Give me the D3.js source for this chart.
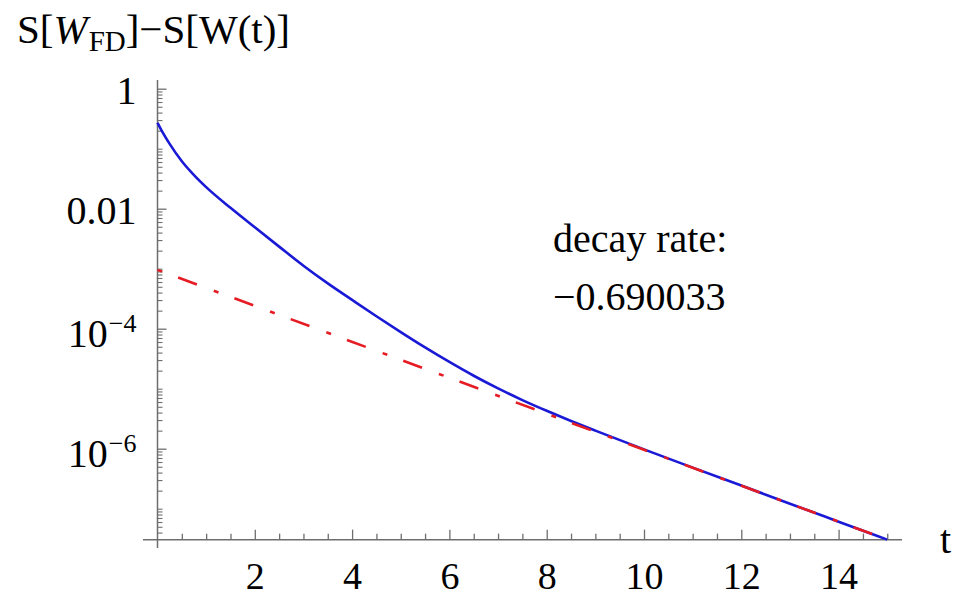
<!DOCTYPE html>
<html><head><meta charset="utf-8">
<script src="https://cdn.jsdelivr.net/npm/d3@7"></script>
<style>
html,body{margin:0;padding:0;background:#fff;}
svg{display:block;}
svg text{font-family:"Liberation Serif","Times New Roman",serif;}
</style></head><body>
<svg id="chart" width="954" height="598"></svg>
<script>
// ---- data ----
const blueT = [0, 0.1, 0.25, 0.5, 0.75, 1.0, 1.5, 2.0, 2.5, 3.0, 3.5, 4.0, 4.5, 5.0, 5.5, 6.0, 6.5, 7.0, 7.5, 8.0, 8.5, 9.0, 10, 11, 12, 13, 14, 15];
const blueS = [0.271, 0.1905, 0.1202, 0.0617, 0.0363, 0.0229, 0.01035, 4.90e-3, 2.333e-3, 1.122e-3, 5.69e-4, 3.02e-4, 1.614e-4, 8.79e-5, 4.88e-5, 2.79e-5, 1.644e-5, 1.012e-5, 6.46e-6, 4.28e-6, 2.90e-6, 2.00e-6, 9.75e-7, 4.84e-7, 2.43e-7, 1.213e-7, 6.08e-8, 3.05e-8];
const redT = [0, 5, 10, 15];
const redS = [9.55e-4, 3.03e-5, 9.6e-7, 3.05e-8];
const xMajorTicks = [2, 4, 6, 8, 10, 12, 14];
const yMajorTicks = [1, 1e-2, 1e-4, 1e-6];
const yTickLabels = [["1", ""], ["0.01", ""], ["10", "\u22124"], ["10", "\u22126"]];
const decayText = ["decay rate:", "\u22120.690033"];
const xAxisLabel = "t";

// ---- layout ----
const FONT = "Liberation Serif, Times New Roman, serif";
const svg = d3.select("#chart");
const x = d3.scaleLinear().domain([0, 15]).range([157.5, 157.5 + 15 * 48.65]);
const y = d3.scaleLog().domain([1, 1e-8]).range([88.7, 568.7]);
const yBottom = 3.05e-8, yTop = 1.4;
const axisY = y(yBottom);
const axisColor = "#6e6e6e";

// minor ticks
const xMinor = d3.range(0.5, 15.01, 0.5).filter(v => !xMajorTicks.includes(v));
const yMinor = [];
for (let k = -8; k <= 0; k++) for (let j = 1; j <= 9; j++) {
  const v = j * Math.pow(10, k);
  if (v >= yBottom * 0.999 && v <= yTop && !yMajorTicks.some(m => Math.abs(m - v) / m < 1e-6)) yMinor.push(v);
}

// x axis
const gx = svg.append("g").attr("transform", `translate(0,${axisY})`);
gx.call(d3.axisBottom(x).tickValues(xMinor).tickSize(-6).tickFormat(""));
gx.call(g => g.select(".domain").remove());
const gxM = svg.append("g").attr("transform", `translate(0,${axisY})`);
gxM.call(d3.axisBottom(x).tickValues(xMajorTicks).tickSize(-10).tickPadding(22).tickFormat(d3.format("d")));
gxM.call(g => g.select(".domain").remove());
gxM.attr("font-family", FONT);
gxM.selectAll("text").attr("font-size", 38).attr("fill", "#000").attr("font-family", FONT);
svg.selectAll(".tick line").attr("stroke", axisColor).attr("stroke-width", 1.3);
svg.append("line").attr("x1", 143).attr("x2", 902).attr("y1", axisY).attr("y2", axisY)
  .attr("stroke", axisColor).attr("stroke-width", 1.5);

// y axis
const gy = svg.append("g").attr("transform", `translate(${x(0)},0)`);
gy.call(d3.axisLeft(y).tickValues(yMinor).tickSize(-5).tickFormat(""));
gy.call(g => g.select(".domain").remove());
const gyM = svg.append("g").attr("transform", `translate(${x(0)},0)`);
gyM.call(d3.axisLeft(y).tickValues(yMajorTicks).tickSize(-9).tickFormat(""));
gyM.call(g => g.select(".domain").remove());
gyM.attr("font-family", FONT);
gy.selectAll(".tick line").attr("stroke", axisColor).attr("stroke-width", 1.1);
gyM.selectAll(".tick line").attr("stroke", axisColor).attr("stroke-width", 1.3);
svg.append("line").attr("x1", x(0)).attr("x2", x(0)).attr("y1", 80).attr("y2", 548)
  .attr("stroke", axisColor).attr("stroke-width", 1.5);

// y tick labels with superscripts
gyM.selectAll(".tick").each(function(d, i) {
  const lab = yTickLabels[i];
  const t = d3.select(this).append("text").attr("text-anchor", "end").attr("fill", "#000")
    .attr("x", -21).attr("font-size", 40).attr("font-family", FONT);
  if (lab[1] === "") {
    t.attr("y", 15).text(lab[0]);
  } else {
    t.attr("y", 18);
    t.append("tspan").text(lab[0]);
    t.append("tspan").attr("font-size", 26).attr("dy", -15.5).attr("dx", 1).text(lab[1]);
  }
});

// lines
const line = d3.line().x(d => x(d[0])).y(d => y(d[1])).curve(d3.curveMonotoneX);
svg.append("path").datum(blueT.map((t, i) => [t, blueS[i]]))
  .attr("d", line).attr("fill", "none").attr("stroke", "#1a1ad6").attr("stroke-width", 2.6);
svg.append("path").datum(redT.map((t, i) => [t, redS[i]]))
  .attr("d", d3.line().x(d => x(d[0])).y(d => y(d[1]))).attr("fill", "none")
  .attr("stroke", "#e51c23").attr("stroke-width", 2.6).attr("stroke-dasharray", "5,17,20,18");

// title
const title = svg.append("text").attr("x", 17).attr("y", 43).attr("font-size", 41)
  .attr("fill", "#000").attr("font-family", FONT);
title.append("tspan").text("S[");
title.append("tspan").attr("font-style", "italic").text("W");
title.append("tspan").attr("font-size", 29).attr("dy", 8).attr("dx", 1).text("FD");
title.append("tspan").attr("dy", -8).text("]\u2212S[W(t)]");

// annotation
svg.append("text").attr("x", 553).attr("y", 252).attr("font-size", 40).attr("fill", "#000")
  .attr("font-family", FONT).text(decayText[0]);
svg.append("text").attr("x", 553).attr("y", 310).attr("font-size", 40).attr("fill", "#000")
  .attr("font-family", FONT).text(decayText[1]);

// x axis label
svg.append("text").attr("x", 940).attr("y", 553).attr("font-size", 40).attr("fill", "#000")
  .attr("font-family", FONT).text(xAxisLabel);
</script>
</body></html>
